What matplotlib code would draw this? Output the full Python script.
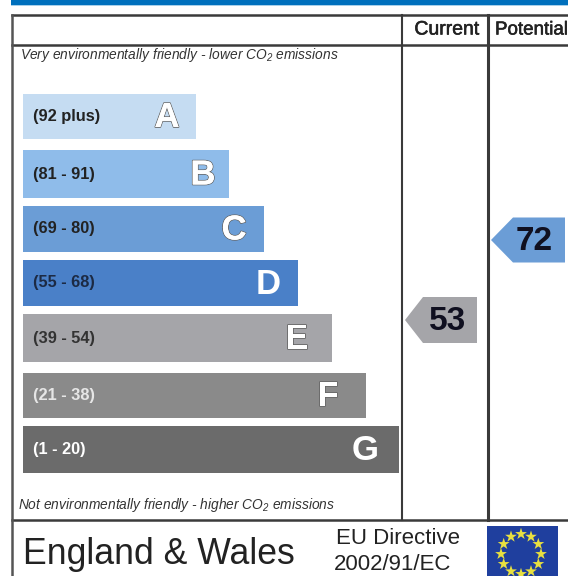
"""EPC style environmental impact rating chart (England & Wales)."""
import numpy as np
import matplotlib
matplotlib.use("Agg")
import matplotlib.pyplot as plt
import matplotlib.patheffects as pe
from matplotlib.patches import Polygon, Rectangle

plt.rcParams["font.family"] = ["Liberation Sans", "DejaVu Sans"]
plt.rcParams["mathtext.default"] = "regular"

W, H = 568, 576

# band data
letters = ["A", "B", "C", "D", "E", "F", "G"]
ranges = ["(92 plus)", "(81 - 91)", "(69 - 80)", "(55 - 68)", "(39 - 54)", "(21 - 38)", "(1 - 20)"]
bar_right = [196, 229, 264, 298, 332, 366, 399]
bar_top = [94, 150, 206, 260, 314, 373, 426]
bar_bottom = [139, 198, 252, 306, 362, 418, 473]
bar_colors = ["#c5dcf2", "#8fbcea", "#6b9dd6", "#4a80c8", "#a5a5a9", "#8a8a8a", "#6b6b6b"]
range_colors = ["#222222", "#222222", "#222222", "#1c2a44", "#333333", "#e6e6e6", "#ffffff"]
letter_x = [167, 203, 234, 268, 297, 328, 365]

# scores
current_score = 53
potential_score = 72

BAR_LEFT = 23
LINE = "#3a3a3a"

fig = plt.figure(figsize=(W / 100, H / 100), dpi=100)
ax = fig.add_axes([0, 0, 1, 1])
ax.set_xlim(0, W)
ax.set_ylim(H, 0)
ax.axis("off")

# top blue strip
ax.add_patch(Rectangle((11, 0), W - 11, 4.5, facecolor="#0070bd", edgecolor="none"))
ax.add_patch(Rectangle((11, 4.5), W - 11, 1.5, facecolor="#a8d0ea", edgecolor="none"))

# frame
ax.plot([12, W], [15, 15], color=LINE, lw=1.8)
ax.plot([12, W], [44.5, 44.5], color=LINE, lw=1.8)
ax.plot([12, W], [520, 520], color=LINE, lw=1.8)
ax.plot([12, 12], [15, H], color="#555555", lw=1.8)
ax.plot([401.5, 401.5], [15, 520], color=LINE, lw=1.5)
ax.plot([487.5, 487.5], [15, 520], color=LINE, lw=2.2)

# headers
cur = ax.text(447, 30, "Current", ha="center", va="center", fontsize=14, color="#222222")
pot = ax.text(495, 30, "Potential", ha="left", va="center", fontsize=13.5, color="#222222",
              clip_on=True)
for t in (cur, pot):
    t.set_path_effects([pe.withStroke(linewidth=0.4, foreground="#222222")])

ax.text(20, 55, "Very environmentally friendly - lower CO$_2$ emissions", ha="left", va="center",
        fontsize=9.9, style="italic", color="#333333")
ax.text(18, 505, "Not environmentally friendly - higher CO$_2$ emissions", ha="left", va="center",
        fontsize=9.9, style="italic", color="#333333")

# bands
tops = np.array(bar_top)
heights = np.array(bar_bottom) - tops
widths = np.array(bar_right) - BAR_LEFT
centers = tops + heights / 2
ax.barh(centers, widths, height=heights, left=BAR_LEFT, color=bar_colors, edgecolor="none")

for i, letter in enumerate(letters):
    ax.text(33, centers[i], ranges[i], ha="left", va="center", fontsize=11.8,
            fontweight="bold", color=range_colors[i])
    txt = ax.text(letter_x[i], centers[i] + 1, letter, ha="center", va="center",
                  fontsize=25, fontweight="bold", color="white")
    if letter in ("A", "B", "C", "E", "F"):
        txt.set_path_effects([pe.withStroke(linewidth=1.2, foreground="#666666"),
                              pe.Normal()])


def score_arrow(tip_x, body_x, right_x, cy, half, color, score, text_x):
    pts = [(tip_x, cy), (body_x, cy - half), (right_x, cy - half),
           (right_x, cy + half), (body_x, cy + half)]
    ax.add_patch(Polygon(pts, closed=True, facecolor=color, edgecolor="none"))
    ax.text(text_x, cy + 2, str(score), ha="center", va="center",
            fontsize=24, fontweight="bold", color="#101020")


score_arrow(405, 423, 477, 320, 23, bar_colors[4], current_score, 448)
score_arrow(491, 513, 565, 240, 22.5, bar_colors[2], potential_score, 534)

# footer
ax.text(23, 555, "England & Wales", ha="left", va="center", fontsize=25.7, color="#222222")
ax.text(336, 538, "EU Directive", ha="left", va="center", fontsize=16, color="#222222")
ax.text(334, 565, "2002/91/EC", ha="left", va="center", fontsize=16, color="#222222")

# EU flag
ax.add_patch(Rectangle((487, 526), 71, 50, facecolor="#1f3f9e", edgecolor="none"))
angles = np.deg2rad(np.arange(0, 360, 30))
ax.scatter(521 + 20 * np.cos(angles), 554 + 20 * np.sin(angles), marker="*", s=80,
           color="#e8e040", edgecolors="none", zorder=5)

fig.savefig("out.png", dpi=100)
plt.close(fig)
